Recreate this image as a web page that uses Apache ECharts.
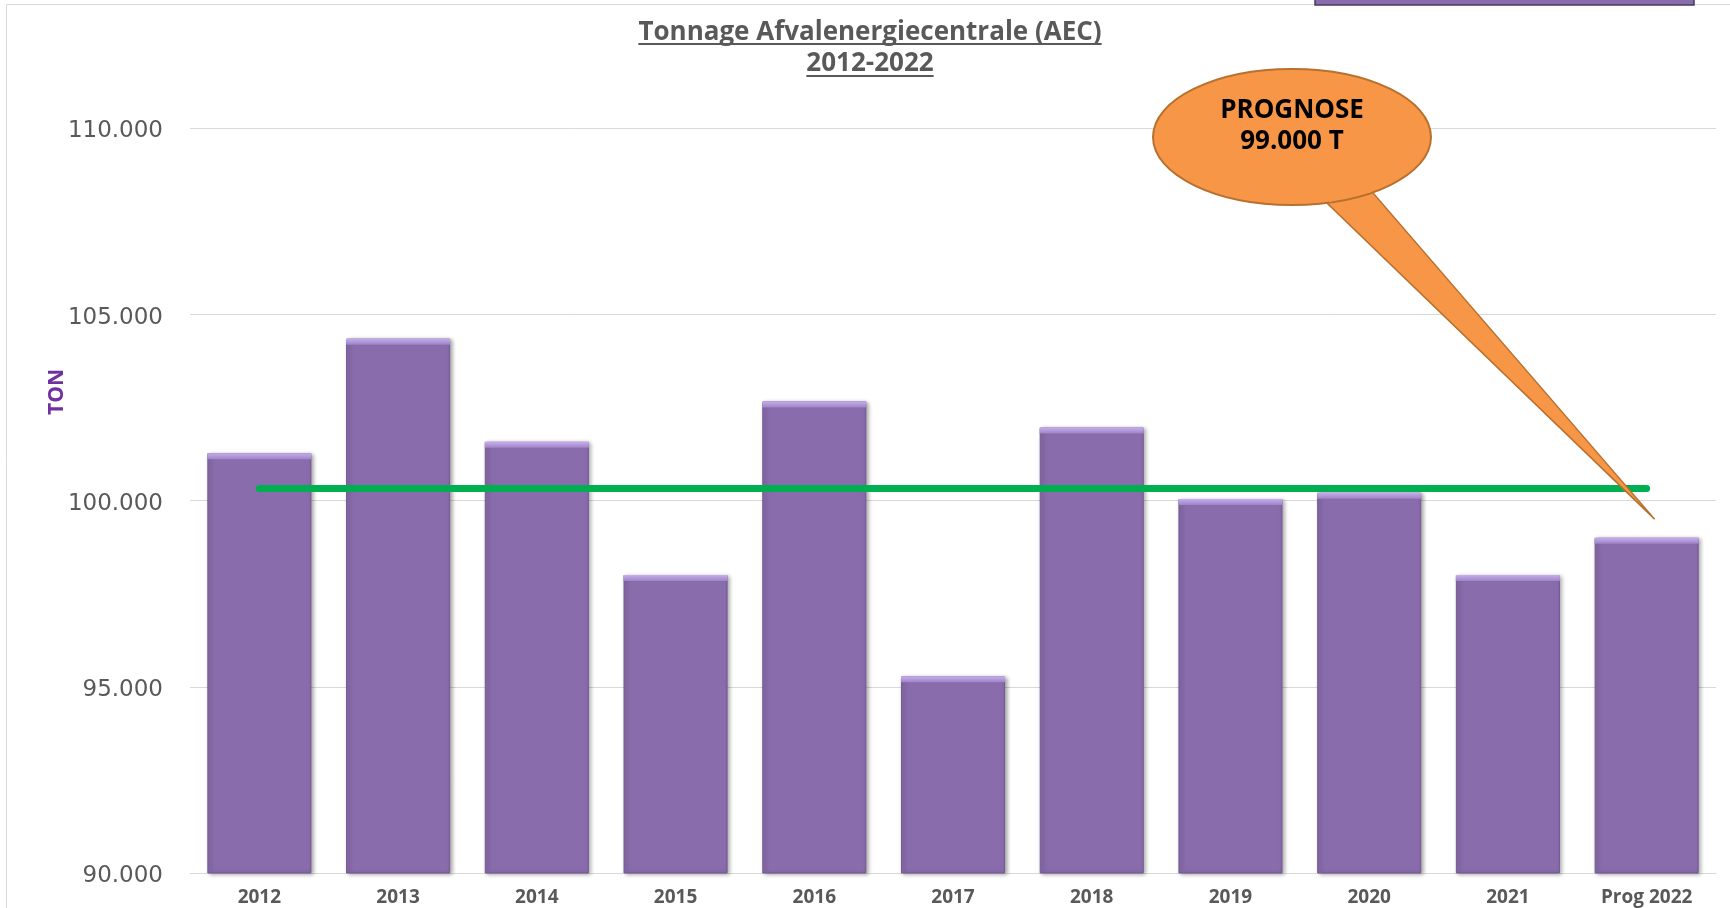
<!DOCTYPE html>
<html>
<head>
<meta charset="utf-8">
<script src="https://cdn.jsdelivr.net/npm/echarts@6/dist/echarts.min.js"></script>
<style>
  html, body { margin: 0; padding: 0; background: #fff; }
  #main { width: 1730px; height: 908px; }
</style>
</head>
<body>
<div id="main"></div>
<script>
const years = ['2012', '2013', '2014', '2015', '2016', '2017', '2018', '2019', '2020', '2021', 'Prog 2022'];
const tonnage = [101270, 104345, 101575, 98000, 102660, 95280, 101960, 100040, 100210, 98000, 99000];
// green line in the picture sits at the mean of 2012-2021
const avgTon = 100330;
const yTicks = { min: 90000, max: 110000, step: 5000 };
const titleLines = ['Tonnage Afvalenergiecentrale (AEC)', '2012-2022'];
const calloutText = ['PROGNOSE', '99.000 T'];
const calloutTip = ['Prog 2022', 99500];

const GREY = '#595959';
const fmt = v => String(v).replace(/\B(?=(\d{3})+(?!\d))/g, '.');

const measure = (str, font) => {
  const c = document.createElement('canvas').getContext('2d');
  c.font = font;
  return c.measureText(str).width;
};

var myChart = echarts.init(document.getElementById('main'));

myChart.setOption({
  animation: false,
  grid: { left: 190, right: 14, top: 128, bottom: 35 },
  xAxis: {
    type: 'category',
    data: years,
    axisLine: { lineStyle: { color: '#D9D9D9', width: 1 } },
    axisTick: { show: false },
    axisLabel: {
      color: GREY, fontFamily: 'Open Sans', fontWeight: 'bold', fontSize: 19, margin: 15
    }
  },
  yAxis: {
    type: 'value',
    min: yTicks.min,
    max: yTicks.max,
    interval: yTicks.step,
    axisLine: { show: false },
    axisTick: { show: false },
    splitLine: { lineStyle: { color: '#D9D9D9', width: 1 } },
    axisLabel: {
      color: GREY, fontFamily: 'DejaVu Sans', fontSize: 23, margin: 27,
      verticalAlign: 'top', lineHeight: 7,
      formatter: v => fmt(v)
    }
  },
  series: [
    {
      type: 'bar',
      data: tonnage,
      barWidth: '75%',
      itemStyle: {
        color: '#896CAC',
        borderColor: '#735A93',
        borderWidth: 1,
        shadowColor: 'rgba(0,0,0,0.35)',
        shadowBlur: 4,
        shadowOffsetX: 2,
        shadowOffsetY: 1
      },
      markLine: {
        silent: true,
        symbol: ['none', 'none'],
        label: { show: false },
        lineStyle: { color: '#00B050', width: 7, type: 'solid', cap: 'round' },
        data: [[{ coord: [years[0], avgTon] }, { coord: [years[years.length - 1], avgTon] }]]
      },
      z: 2
    },
    {
      // bevelled top edge of each bar
      type: 'pictorialBar',
      data: tonnage,
      barWidth: '75%',
      symbol: 'rect',
      symbolSize: ['100%', 6],
      symbolPosition: 'end',
      silent: true,
      itemStyle: {
        color: new echarts.graphic.LinearGradient(0, 0, 0, 1, [
          { offset: 0, color: '#C6AEEE' },
          { offset: 1, color: '#9E84C4' }
        ])
      },
      z: 3
    }
  ]
});

// title, underlines, side label, callout and frame
const titleFont = 'bold 26px "Open Sans"';
const titleX = 870;
const titleY = [33, 64];
const underY = [44, 76];
const g = [];

g.push({
  type: 'rect', silent: true, z: 1,
  shape: { x: 6.5, y: 4.5, width: 1800, height: 1000 },
  style: { fill: 'none', stroke: '#D9D9D9', lineWidth: 1 }
});
g.push({
  type: 'rect', silent: true, z: 2,
  shape: { x: 1315, y: -6, width: 379, height: 11 },
  style: { fill: '#896CAC', stroke: '#4B3A63', lineWidth: 1.5 }
});

titleLines.forEach((t, i) => {
  const w = measure(t, titleFont);
  g.push({
    type: 'text', silent: true, z: 10,
    x: titleX, y: titleY[i],
    style: {
      text: t, fill: GREY, font: titleFont,
      align: 'center', verticalAlign: 'middle'
    }
  });
  g.push({
    type: 'line', silent: true, z: 10,
    shape: { x1: titleX - w / 2, y1: underY[i], x2: titleX + w / 2, y2: underY[i] },
    style: { stroke: GREY, lineWidth: 2 }
  });
});

g.push({
  type: 'text', silent: true, z: 10,
  x: 57, y: 392, rotation: Math.PI / 2,
  style: {
    text: 'TON', fill: '#7030A0', font: 'bold 21px "Open Sans"',
    align: 'center', verticalAlign: 'middle'
  }
});

const tip = myChart.convertToPixel({ gridIndex: 0 }, calloutTip);
const tipX = tip[0] + 8, tipY = tip[1];
const ell = { cx: 1292, cy: 137, rx: 139, ry: 68 };
const baseA = [1327, 203], baseB = [1373, 193];
const orange = '#F79646', orangeEdge = '#B8702F';

g.push({
  type: 'polygon', silent: true, z: 20,
  shape: { points: [[baseA[0] - 6, baseA[1] - 20], baseA, [tipX, tipY], baseB, [baseB[0] - 6, baseB[1] - 20]] },
  style: { fill: orange, stroke: orangeEdge, lineWidth: 1.5 }
});
g.push({
  type: 'ellipse', silent: true, z: 21,
  shape: ell,
  style: { fill: orange, stroke: orangeEdge, lineWidth: 2 }
});
g.push({
  type: 'polygon', silent: true, z: 22,
  shape: { points: [[baseA[0] + 1, baseA[1] - 8], [baseA[0] + 2, baseA[1] - 1], [baseB[0] - 1, baseB[1] - 1], [baseB[0] - 3, baseB[1] - 8]] },
  style: { fill: orange }
});
calloutText.forEach((t, i) => {
  g.push({
    type: 'text', silent: true, z: 23,
    x: ell.cx, y: 111 + i * 31,
    style: {
      text: t, fill: '#000', font: 'bold 26px "Open Sans"',
      align: 'center', verticalAlign: 'middle'
    }
  });
});

myChart.setOption({ graphic: { elements: g } });
</script>
</body>
</html>
